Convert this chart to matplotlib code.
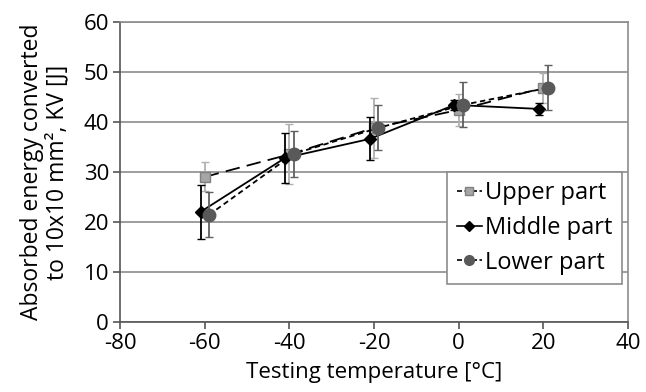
import matplotlib
matplotlib.use("Agg")
import matplotlib.pyplot as plt
from matplotlib.lines import Line2D

plt.rcParams['font.family'] = ['Open Sans', 'DejaVu Sans']
plt.rcParams['axes.unicode_minus'] = False

# testing temperatures and absorbed energies
temps = [-60, -40, -20, 0, 20]
upper = [29.0, 33.5, 38.8, 42.4, 46.8]
upper_err = [2.9, 6.0, 6.0, 3.2, 3.0]
middle = [22.0, 32.8, 36.6, 43.4, 42.6]
middle_err = [5.4, 5.0, 4.3, 1.0, 1.2]
lower = [21.4, 33.6, 38.8, 43.4, 46.8]
lower_err = [4.5, 4.6, 4.5, 4.5, 4.5]

fig = plt.figure(figsize=(6.46, 3.92), dpi=100)
ax = fig.add_axes([0.186, 0.179, 0.786, 0.765])

x_up = [t for t in temps]
x_mid = [t - 1 for t in temps]
x_low = [t + 1 for t in temps]

ax.errorbar(x_up, upper, yerr=upper_err, color="black", ls=(0, (8, 4)), lw=1.3,
            marker="s", ms=7, mfc="#a6a6a6", mec="#808080", ecolor="#b0b0b0",
            elinewidth=1.3, capsize=3, zorder=3)
ax.errorbar(x_mid, middle, yerr=middle_err, color="black", ls="-", lw=1.3,
            marker="D", ms=6, mfc="black", mec="black", ecolor="black",
            elinewidth=1.3, capsize=3, zorder=4)
ax.errorbar(x_low, lower, yerr=lower_err, color="black", ls=(0, (3, 2)), lw=1.3,
            marker="o", ms=9, mfc="#595959", mec="#595959", ecolor="#606060",
            elinewidth=1.3, capsize=3, zorder=5)

ax.set_xlim(-80, 40)
ax.set_ylim(0, 60)
ax.set_xticks(range(-80, 41, 20))
ax.set_yticks(range(0, 61, 10))
ax.yaxis.grid(True, color="#8c8c8c", lw=1.2)
ax.set_axisbelow(True)
for s in ax.spines.values():
    s.set_color("#8c8c8c")
    s.set_linewidth(1.2)
ax.spines["left"].set_color("#555555")
ax.spines["bottom"].set_color("#555555")
ax.tick_params(axis="both", labelsize=16, color="#555555", length=5, width=1.2)
ax.tick_params(axis="x", pad=3)
ax.tick_params(axis="y", pad=3)

ax.set_xlabel("Testing temperature [°C]", fontsize=16, labelpad=6)
ax.set_ylabel("Absorbed energy converted\nto 10x10 mm², KV [J]", fontsize=16.5,
              labelpad=10, linespacing=1.1)

handles = [
    Line2D([], [], color="black", ls=(0, (3, 1.5)), lw=1.2, marker="s", ms=6,
           mfc="#a6a6a6", mec="#808080"),
    Line2D([], [], color="black", ls="-", lw=1.2, marker="D", ms=5,
           mfc="black", mec="black"),
    Line2D([], [], color="black", ls=(0, (3, 1.5)), lw=1.2, marker="o", ms=7,
           mfc="#595959", mec="#595959"),
]
leg = ax.legend(handles, ["Upper part", "Middle part", "Lower part"],
                loc="lower right", bbox_to_anchor=(0.997, 0.11), fontsize=17,
                handlelength=1.1, handletextpad=0.1, borderpad=0.4,
                labelspacing=0.45, borderaxespad=0.2, fancybox=False,
                framealpha=1)
leg.get_frame().set_edgecolor("#8c8c8c")
leg.get_frame().set_linewidth(1.2)

fig.savefig("out.png", dpi=100)
